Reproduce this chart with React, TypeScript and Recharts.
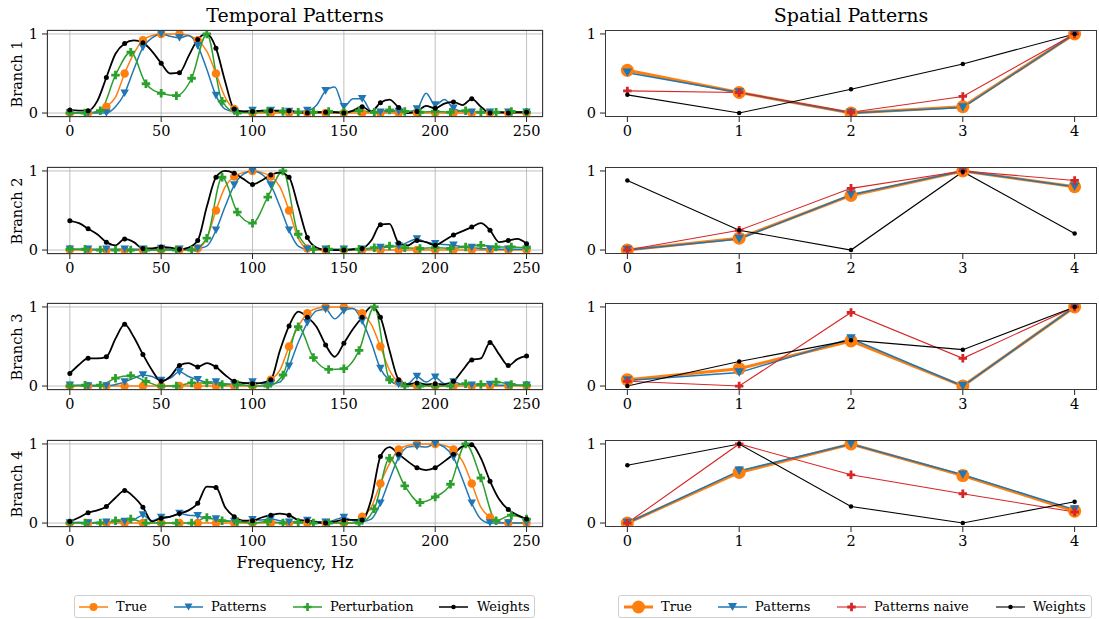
import React from 'react'
import { LineChart, Line, XAxis, YAxis, CartesianGrid } from 'recharts'

const FONT = '"DejaVu Serif", "Liberation Serif", serif'

const ORANGE = '#ff7f0e'
const BLUE = '#1f77b4'
const GREEN = '#2ca02c'
const RED = '#d62728'
const BLACK = '#000000'

const freqTicks = [0, 50, 100, 150, 200, 250]
const chanTicks = [0, 1, 2, 3, 4]
const valueTicks = [0, 1]
const branchNames = ['Branch 1', 'Branch 2', 'Branch 3', 'Branch 4']

// spectra are sampled every 5 Hz, the perturbation every 25/3 Hz
const FREQ_STEP = 5
const PERT_STEP = 25 / 3

const true1 = [0, 0, 0, 0.01, 0.08, 0.2, 0.5, 0.75, 0.92, 0.98, 1, 1, 1, 0.98, 0.92, 0.78, 0.5, 0.2, 0.05, 0.01,
  0, 0, 0, 0, 0, 0, 0, 0, 0, 0, 0, 0, 0, 0, 0, 0, 0, 0, 0, 0, 0, 0, 0, 0, 0, 0, 0, 0, 0, 0, 0]
const patterns1 = [0, 0, 0, 0, 0, 0.08, 0.25, 0.55, 0.83, 0.95, 1, 0.97, 0.95, 0.98, 0.85, 0.55, 0.22, 0.05, 0.02, 0.02,
  0.03, 0.03, 0.03, 0.02, 0.02, 0.02, 0.03, 0.1, 0.28, 0.33, 0.08, 0.18, 0.18, 0.02, 0.01, 0.02, 0.02, 0.02, 0.05, 0.25,
  0.1, 0.17, 0.06, 0.02, 0.01, 0.01, 0.01, 0.01, 0.01, 0.01, 0.01]
const perturb1 = [0, 0, 0.03, 0.48, 0.77, 0.37, 0.25, 0.22, 0.44, 1.0, 0.15, 0, 0.01, 0.02, 0.02, 0.01, 0.01, 0.02,
  0.01, 0.03, 0.01, 0.04, 0.02, 0.01, 0.02, 0.01, 0.03, 0.01, 0.01, 0.02, 0.01]
const weights1 = [0.04, 0.03, 0.03, 0.15, 0.45, 0.75, 0.88, 0.92, 0.89, 0.78, 0.63, 0.5, 0.51, 0.72, 0.93, 1.0, 0.82, 0.4, 0.05, 0.02,
  0.02, 0.03, 0.03, 0.03, 0.03, 0.01, 0, 0.01, 0.01, 0.01, 0, 0.03, 0.08, 0.02, 0.13, 0.17, 0.07, 0, 0.02, 0.09,
  0.06, 0.12, 0.14, 0.1, 0.18, 0.08, 0, 0.01, 0, 0.01, 0.01]

const true2 = [0, 0, 0, 0, 0, 0, 0, 0, 0, 0, 0, 0, 0, 0,
  0.02, 0.15, 0.5, 0.8, 0.93, 0.98, 1, 0.98, 0.93, 0.8, 0.5, 0.15, 0.02,
  0, 0, 0, 0, 0, 0, 0, 0, 0, 0, 0, 0, 0, 0, 0, 0, 0, 0, 0, 0, 0, 0, 0, 0]
const patterns2 = [0.01, 0.01, 0.01, 0.01, 0.01, 0.01, 0.01, 0.01, 0.01, 0.01, 0.02, 0.01, 0.01, 0.01,
  0.02, 0.05, 0.25, 0.55, 0.82, 0.96, 1, 0.96, 0.82, 0.55, 0.25, 0.05, 0.01,
  0.01, 0.01, 0.01, 0.01, 0.01, 0.01, 0.02, 0.03, 0.04, 0.05, 0.1, 0.14, 0.1, 0.08, 0.07, 0.06, 0.04, 0.03, 0.02,
  0.01, 0.01, 0.01, 0.01, 0.01]
const perturb2 = [0.01, 0.01, 0, 0, 0, 0, 0, 0, 0, 0.15, 0.92, 0.48, 0.34, 0.67, 1.0, 0.2, 0.01, 0.01, 0, 0.01,
  0.03, 0.05, 0.03, 0.02, 0.03, 0.02, 0.04, 0.06, 0.04, 0.04, 0.03]
const weights2 = [0.37, 0.34, 0.27, 0.2, 0.1, 0.06, 0.14, 0.1, 0.02, 0.02, 0.04, 0.03, 0.01, 0.03, 0.12, 0.55, 0.92, 1.0, 0.97, 0.9,
  0.83, 0.88, 0.95, 0.98, 0.92, 0.55,
  0.16, 0.03, 0, 0, 0, 0.01, 0.02, 0.12, 0.32, 0.33, 0.09, 0.06, 0.12, 0.1, 0.06, 0.12, 0.19, 0.24, 0.29, 0.34,
  0.25, 0.1, 0.12, 0.14, 0.08]

const true3 = [0, 0, 0, 0, 0, 0, 0, 0, 0, 0, 0, 0, 0, 0, 0, 0, 0, 0, 0, 0, 0, 0,
  0.08, 0.2, 0.5, 0.75, 0.92, 0.98, 1, 1, 1, 0.98, 0.92, 0.78, 0.5, 0.2, 0.05, 0.01,
  0, 0, 0, 0, 0, 0, 0, 0, 0, 0, 0, 0, 0]
const patterns3 = [0.01, 0.01, 0, 0, 0, 0.02, 0.05, 0.1, 0.14, 0.12, 0.07, 0.1, 0.18, 0.12, 0.08, 0.05, 0.05, 0.03, 0.02, 0.03,
  0.05, 0.03,
  0.03, 0.05, 0.25, 0.55, 0.8, 0.95, 0.97, 0.85, 0.95, 0.98, 0.82, 0.55, 0.22, 0.07, 0.02, 0.03,
  0.12, 0.05, 0.11, 0.03, 0.05, 0.02, 0.01, 0.02, 0.02, 0.01, 0.01, 0.01, 0.01]
const perturb3 = [0, 0.01, 0.01, 0.1, 0.13, 0.06, 0, 0, 0.04, 0.04, 0.02, 0.02, 0, 0, 0.14, 0.75, 0.36, 0.21, 0.22, 0.45,
  1.0, 0.08, 0, 0, 0, 0, 0.03, 0.02, 0.05, 0.02, 0.01]
const weights3 = [0.16, 0.27, 0.35, 0.35, 0.37, 0.6, 0.78, 0.62, 0.4, 0.2, 0.06, 0.12, 0.26, 0.29, 0.24, 0.29, 0.24, 0.14, 0.06, 0.04,
  0.03, 0.04,
  0.08, 0.45, 0.76, 0.94, 0.87, 0.75, 0.52, 0.37, 0.54, 0.72, 0.87, 1.0, 0.87, 0.45, 0.08, 0.02,
  0.04, 0.02, 0.03, 0.02, 0.06, 0.2, 0.33, 0.35, 0.55, 0.4, 0.26, 0.34, 0.38]

const true4 = [0, 0, 0, 0, 0, 0, 0, 0, 0, 0, 0, 0, 0, 0, 0, 0, 0, 0, 0, 0, 0, 0, 0, 0, 0, 0, 0, 0, 0, 0, 0, 0,
  0.08, 0.2, 0.5, 0.75, 0.93, 0.98, 1, 1, 1, 0.98, 0.93, 0.78, 0.5, 0.2, 0.07, 0.01,
  0, 0, 0]
const patterns4 = [0, 0.01, 0, 0.01, 0.01, 0.02, 0.02, 0.04, 0.1, 0.03, 0.07, 0.08, 0.12, 0.1, 0.09, 0.06, 0.05, 0.03, 0.02, 0.02,
  0.04, 0.04, 0.05, 0.03, 0.01, 0.02, 0.03, 0.02, 0.01, 0.04, 0.07, 0.03,
  0.02, 0.05, 0.25, 0.55, 0.83, 0.96, 0.97, 0.96, 1.0, 0.96, 0.83, 0.55, 0.25, 0.05, 0, 0, 0, 0, 0]
const perturb4 = [0, 0, 0, 0.03, 0.05, 0, 0, 0, 0, 0.07, 0.03, 0.02, 0, 0.02, 0, 0.01, 0, 0, 0, 0,
  0.18, 0.82, 0.47, 0.26, 0.33, 0.49, 1.0, 0.57, 0.03, 0.1, 0.05]
const weights4 = [0.02, 0.07, 0.13, 0.16, 0.21, 0.32, 0.41, 0.33, 0.2, 0.02, 0.06, 0.08, 0.12, 0.16, 0.25, 0.46, 0.45, 0.2, 0.08, 0.03,
  0.03, 0.07, 0.1, 0.12, 0.1, 0.04, 0.03, 0.01, 0, 0.02, 0.04, 0.04,
  0.04, 0.3, 0.84, 0.96, 0.87, 0.78, 0.7, 0.67, 0.7, 0.78, 0.87, 0.97, 0.99, 0.82, 0.53, 0.3, 0.17, 0.1, 0.05]

// spatial patterns over the 5 channels
const sTrue1 = [0.54, 0.26, 0, 0.08, 1]
const sPatterns1 = [0.51, 0.26, 0, 0.07, 1]
const sNaive1 = [0.28, 0.26, 0.01, 0.21, 1]
const sWeights1 = [0.23, 0, 0.3, 0.62, 1]

const sTrue2 = [0, 0.15, 0.69, 1, 0.8]
const sPatterns2 = [0, 0.14, 0.7, 1, 0.8]
const sNaive2 = [0, 0.25, 0.78, 1, 0.88]
const sWeights2 = [0.88, 0.25, 0, 0.99, 0.21]

const sTrue3 = [0.08, 0.22, 0.57, 0, 1]
const sPatterns3 = [0.07, 0.17, 0.6, 0, 1]
const sNaive3 = [0.06, 0, 0.93, 0.35, 1]
const sWeights3 = [0, 0.31, 0.58, 0.46, 1]

const sTrue4 = [0, 0.64, 1, 0.6, 0.15]
const sPatterns4 = [0, 0.66, 1, 0.61, 0.17]
const sNaive4 = [0, 1, 0.61, 0.37, 0.14]
const sWeights4 = [0.73, 1, 0.21, 0, 0.27]

const temporal = [
  { tr: true1, pat: patterns1, pert: perturb1, w: weights1 },
  { tr: true2, pat: patterns2, pert: perturb2, w: weights2 },
  { tr: true3, pat: patterns3, pert: perturb3, w: weights3 },
  { tr: true4, pat: patterns4, pert: perturb4, w: weights4 },
]

const spatial = [
  { tr: sTrue1, pat: sPatterns1, naive: sNaive1, w: sWeights1 },
  { tr: sTrue2, pat: sPatterns2, naive: sNaive2, w: sWeights2 },
  { tr: sTrue3, pat: sPatterns3, naive: sNaive3, w: sWeights3 },
  { tr: sTrue4, pat: sPatterns4, naive: sNaive4, w: sWeights4 },
]

const toPoints = (values: number[], step: number) => values.map((v, i) => ({ f: i * step, v }))

// layout
const LEFT_W = 496
const RIGHT_W = 492
const PLOT_H = 87
const Y_AXIS_W = 48
const rowTops = [30, 167, 303, 440]
const leftPlotX = 47
const rightPlotX = 605

type Kind = 'circle' | 'tri' | 'plus' | 'dot'

const marker = (kind: Kind, color: string, size: number, cx: number, cy: number, key?: string) => {
  const h = size / 2
  if (kind === 'tri') {
    return <path key={key} d={`M${cx - h},${cy - h * 0.9}L${cx + h},${cy - h * 0.9}L${cx},${cy + h * 0.9}Z`} fill={color} />
  }
  if (kind === 'plus') {
    const t = size / 6
    return (
      <path
        key={key}
        d={`M${cx - t},${cy - h}H${cx + t}V${cy - t}H${cx + h}V${cy + t}H${cx + t}V${cy + h}H${cx - t}V${cy + t}H${cx - h}V${cy - t}H${cx - t}Z`}
        fill={color}
      />
    )
  }
  return <circle key={key} cx={cx} cy={cy} r={h} fill={color} />
}

const dotRenderer = (kind: Kind, color: string, size: number, every: number, id: string) => (p: any) => {
  const key = `${id}-${p.index}`
  if (p.cx == null || p.cy == null || p.index % every !== 0) return <g key={key} />
  return marker(kind, color, size, p.cx, p.cy, key)
}

const tickStyle = { fill: '#000', fontSize: 14.5, fontFamily: FONT }
const tickLineStyle = { stroke: '#222', strokeWidth: 1 }

const Frame = ({ left, top, width }: { left: number; top: number; width: number }) => (
  <div
    style={{
      position: 'absolute',
      left,
      top,
      width,
      height: PLOT_H,
      border: '1px solid #3a3a3a',
      boxSizing: 'border-box',
      pointerEvents: 'none',
    }}
  />
)

const TemporalPanel = ({ row }: { row: number }) => {
  const b = temporal[row]
  const top = rowTops[row]
  return (
    <>
      <div style={{ position: 'absolute', left: leftPlotX - Y_AXIS_W, top: top - 5 }}>
        <LineChart width={Y_AXIS_W + LEFT_W + 2} height={PLOT_H + 30} margin={{ top: 5, right: 2, bottom: 0, left: 0 }}>
          <CartesianGrid stroke="#b0b0b0" strokeWidth={0.8} />
          <XAxis
            type="number"
            dataKey="f"
            domain={[-12.5, 259]}
            ticks={freqTicks}
            interval={0}
            allowDataOverflow
            height={25}
            axisLine={false}
            tickLine={tickLineStyle}
            tickSize={5}
            tickMargin={4}
            tick={tickStyle}
          />
          <YAxis
            type="number"
            domain={[-0.05, 1.05]}
            ticks={valueTicks}
            interval={0}
            allowDataOverflow
            width={Y_AXIS_W}
            axisLine={false}
            tickLine={tickLineStyle}
            tickSize={5}
            tickMargin={4}
            tick={tickStyle}
          />
          <Line data={toPoints(b.tr, FREQ_STEP)} dataKey="v" type="monotone" stroke={ORANGE} strokeWidth={1.5}
            dot={dotRenderer('circle', ORANGE, 8.5, 2, `t${row}`)} activeDot={false} isAnimationActive={false} />
          <Line data={toPoints(b.pat, FREQ_STEP)} dataKey="v" type="monotone" stroke={BLUE} strokeWidth={1.5}
            dot={dotRenderer('tri', BLUE, 8.5, 2, `p${row}`)} activeDot={false} isAnimationActive={false} />
          <Line data={toPoints(b.pert, PERT_STEP)} dataKey="v" type="monotone" stroke={GREEN} strokeWidth={1.5}
            dot={dotRenderer('plus', GREEN, 8.5, 1, `g${row}`)} activeDot={false} isAnimationActive={false} />
          <Line data={toPoints(b.w, FREQ_STEP)} dataKey="v" type="monotone" stroke={BLACK} strokeWidth={1.8}
            dot={dotRenderer('dot', BLACK, 5, 2, `w${row}`)} activeDot={false} isAnimationActive={false} />
        </LineChart>
      </div>
      <Frame left={leftPlotX} top={top} width={LEFT_W} />
      <div
        style={{
          position: 'absolute',
          left: 17,
          top: top + PLOT_H / 2,
          transform: 'translate(-50%, -50%) rotate(-90deg)',
          fontFamily: FONT,
          fontSize: 14.5,
          whiteSpace: 'nowrap',
        }}
      >
        {branchNames[row]}
      </div>
    </>
  )
}

const SpatialPanel = ({ row }: { row: number }) => {
  const s = spatial[row]
  const top = rowTops[row]
  const table = s.tr.map((v, i) => ({ ch: i, tr: v, pat: s.pat[i], naive: s.naive[i], w: s.w[i] }))
  return (
    <>
      <div style={{ position: 'absolute', left: rightPlotX - Y_AXIS_W, top: top - 5 }}>
        <LineChart width={Y_AXIS_W + RIGHT_W + 2} height={PLOT_H + 30} data={table} margin={{ top: 5, right: 2, bottom: 0, left: 0 }}>
          <XAxis
            type="number"
            dataKey="ch"
            domain={[-0.2, 4.2]}
            ticks={chanTicks}
            interval={0}
            allowDataOverflow
            height={25}
            axisLine={false}
            tickLine={tickLineStyle}
            tickSize={5}
            tickMargin={4}
            tick={tickStyle}
          />
          <YAxis
            type="number"
            domain={[-0.05, 1.05]}
            ticks={valueTicks}
            interval={0}
            allowDataOverflow
            width={Y_AXIS_W}
            axisLine={false}
            tickLine={tickLineStyle}
            tickSize={5}
            tickMargin={4}
            tick={tickStyle}
          />
          <Line dataKey="tr" type="linear" stroke={ORANGE} strokeWidth={3}
            dot={dotRenderer('circle', ORANGE, 13, 1, `st${row}`)} activeDot={false} isAnimationActive={false} />
          <Line dataKey="pat" type="linear" stroke={BLUE} strokeWidth={1.5}
            dot={dotRenderer('tri', BLUE, 9.5, 1, `sp${row}`)} activeDot={false} isAnimationActive={false} />
          <Line dataKey="naive" type="linear" stroke={RED} strokeWidth={1.1}
            dot={dotRenderer('plus', RED, 8.5, 1, `sn${row}`)} activeDot={false} isAnimationActive={false} />
          <Line dataKey="w" type="linear" stroke={BLACK} strokeWidth={1.1}
            dot={dotRenderer('dot', BLACK, 4.5, 1, `sw${row}`)} activeDot={false} isAnimationActive={false} />
        </LineChart>
      </div>
      <Frame left={rightPlotX} top={top} width={RIGHT_W} />
    </>
  )
}

type LegendEntry = { label: string; color: string; kind: Kind; size: number; lw: number; sx: number; tx: number }

const LegendBox = ({ left, width, entries }: { left: number; width: number; entries: LegendEntry[] }) => (
  <div
    style={{
      position: 'absolute',
      left,
      top: 595,
      width,
      height: 23,
      border: '1px solid #d0d0d0',
      borderRadius: 3,
      boxSizing: 'border-box',
      fontFamily: FONT,
      fontSize: 13,
    }}
  >
    {entries.map(e => (
      <React.Fragment key={e.label}>
        <svg style={{ position: 'absolute', left: e.sx, top: 2 }} width={29} height={18}>
          <line x1={0} y1={9} x2={29} y2={9} stroke={e.color} strokeWidth={e.lw} />
          {marker(e.kind, e.color, e.size, 14.5, 9)}
        </svg>
        <span style={{ position: 'absolute', left: e.tx, top: 2, lineHeight: '17px', whiteSpace: 'nowrap' }}>{e.label}</span>
      </React.Fragment>
    ))}
  </div>
)

const temporalLegend: LegendEntry[] = [
  { label: 'True', color: ORANGE, kind: 'circle', size: 8, lw: 1.5, sx: 4, tx: 41 },
  { label: 'Patterns', color: BLUE, kind: 'tri', size: 8, lw: 1.5, sx: 99, tx: 136 },
  { label: 'Perturbation', color: GREEN, kind: 'plus', size: 8, lw: 1.5, sx: 218, tx: 255 },
  { label: 'Weights', color: BLACK, kind: 'dot', size: 4.5, lw: 1.5, sx: 364, tx: 402 },
]

const spatialLegend: LegendEntry[] = [
  { label: 'True', color: ORANGE, kind: 'circle', size: 13, lw: 3, sx: 5, tx: 42 },
  { label: 'Patterns', color: BLUE, kind: 'tri', size: 9, lw: 1.5, sx: 99, tx: 136 },
  { label: 'Patterns naive', color: RED, kind: 'plus', size: 8.5, lw: 1.1, sx: 218, tx: 255 },
  { label: 'Weights', color: BLACK, kind: 'dot', size: 4.5, lw: 1.1, sx: 377, tx: 414 },
]

const titleStyle: React.CSSProperties = {
  position: 'absolute',
  top: 4,
  textAlign: 'center',
  fontFamily: FONT,
  fontSize: 19,
  lineHeight: '22px',
}

const App = () => {
  return (
    <div style={{ position: 'absolute', left: 0, top: 0, width: 1099, height: 619, background: '#fff', overflow: 'hidden' }}>
      <div style={{ ...titleStyle, left: leftPlotX, width: LEFT_W }}>Temporal Patterns</div>
      <div style={{ ...titleStyle, left: rightPlotX, width: RIGHT_W }}>Spatial Patterns</div>
      {rowTops.map((_, i) => (
        <React.Fragment key={i}>
          <TemporalPanel row={i} />
          <SpatialPanel row={i} />
        </React.Fragment>
      ))}
      <div
        style={{
          position: 'absolute',
          left: leftPlotX,
          top: 553,
          width: LEFT_W,
          textAlign: 'center',
          fontFamily: FONT,
          fontSize: 16,
          lineHeight: '20px',
        }}
      >
        Frequency, Hz
      </div>
      <LegendBox left={74} width={461} entries={temporalLegend} />
      <LegendBox left={618} width={474} entries={spatialLegend} />
    </div>
  )
}

export default App
